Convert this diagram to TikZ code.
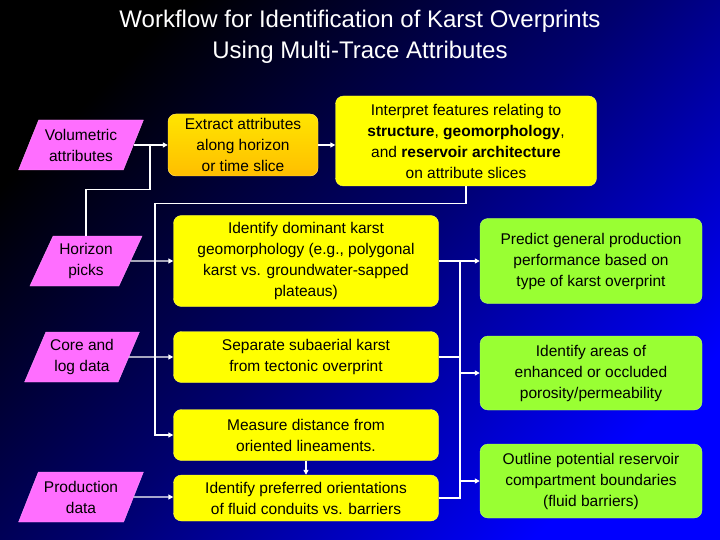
\documentclass[tikz,border=0pt]{standalone}
\usepackage{fontspec}
\setmainfont{Liberation Sans}
\usetikzlibrary{shapes.geometric,arrows.meta}
\definecolor{pk}{HTML}{FF6EFF}
\definecolor{yl}{HTML}{FFFF00}
\definecolor{gr}{HTML}{99FF33}
\definecolor{og}{HTML}{FFBE00}
\begin{document}
\begin{tikzpicture}[x=1pt,y=-1pt,
  txt/.style={font=\fontsize{15.5}{21}\selectfont, align=center, text=black},
  para/.style={txt, trapezium, trapezium left angle=62, trapezium right angle=118, trapezium stretches=true, fill=pk, draw=pk!70!white, minimum width=125pt, minimum height=50pt, inner sep=0pt},
  ybox/.style={txt, rounded corners=8pt, fill=yl, draw=yl!70!white, inner sep=1pt},
  gbox/.style={txt, rounded corners=8pt, fill=gr, draw=gr!70!white, inner sep=1pt, minimum width=222pt},
  wl/.style={draw=white, line width=1.3pt},
  ar/.style={wl, -{Triangle[length=5pt,width=5pt]}}]
\shade[top color=black, bottom color={rgb,255:red,0;green,0;blue,255}, middle color={rgb,255:red,0;green,0;blue,110}, shading angle=45] (0,0) rectangle (720,540);
\useasboundingbox (0,0) rectangle (720,540);
\node[text=white, align=center, font=\fontsize{24}{31}\selectfont] (title) at (360,37) {Workflow for Identification of Karst Overprints\\Using Multi-Trace Attributes};
\node[para] (vol) at (81,145) {Volumetric\\attributes};
\node[para, minimum width=113pt] (hor) at (86,261) {Horizon\\picks};
\node[para, minimum width=115pt] (core) at (82,357) {Core and\\log data};
\node[para] (prod) at (81,497) {Production\\data};
\node[ybox, top color=yl!60!og, bottom color=og, draw=og!60!white, minimum width=150pt, minimum height=62pt] (ext) at (243,145) {Extract attributes\\along horizon\\or time slice};
\node[ybox, minimum width=261pt, minimum height=90pt] (int) at (466,141) {Interpret features relating to\\\textbf{structure}, \textbf{geomorphology},\\and \textbf{reservoir architecture}\\on attribute slices};
\node[ybox, minimum width=265pt, minimum height=91pt] (dom) at (306,261) {Identify dominant karst\\geomorphology (e.g., polygonal\\karst vs. groundwater-sapped\\plateaus)};
\node[ybox, minimum width=265pt, minimum height=51pt] (sep) at (306,357) {Separate subaerial karst\\from tectonic overprint};
\node[ybox, minimum width=265pt, minimum height=51pt] (mea) at (306,435) {Measure distance from\\oriented lineaments.};
\node[ybox, minimum width=265pt, minimum height=46pt] (pref) at (306,498) {Identify preferred orientations\\of fluid conduits vs. barriers};
\node[gbox, minimum height=85pt] (pred) at (591,261) {Predict general production\\performance based on\\type of karst overprint};
\node[gbox, minimum height=74pt] (area) at (591,373) {Identify areas of\\enhanced or occluded\\porosity/permeability};
\node[gbox, minimum height=74pt] (outl) at (591,481) {Outline potential reservoir\\compartment boundaries\\(fluid barriers)};
\coordinate (j1) at (150,145);
\coordinate (busR) at (460,261);
\draw[ar] (vol.east |- ext) -- (ext.west);
\draw[wl] (hor.north) -- ++(0,-46) -| (j1);
\draw[ar] (ext) -- (int.west |- ext);
\draw[ar] (int.south) -- ++(0,17) -| (155,435) -- (mea.west);
\draw[ar] (hor) -- (dom.west);
\draw[ar] (core) -- (sep.west);
\draw[ar] (prod) -- (pref.west |- prod);
\draw[ar] (mea.south) -- (pref.north);
\draw[ar] (dom.east) -- (pred.west);
\draw[wl] (sep.east) -- (460,357);
\draw[wl] (pref.east) -- (460,498) -- (busR);
\draw[ar] (460,373) -- (area.west);
\draw[ar] (460,481) -- (outl.west);
\end{tikzpicture}
\end{document}
